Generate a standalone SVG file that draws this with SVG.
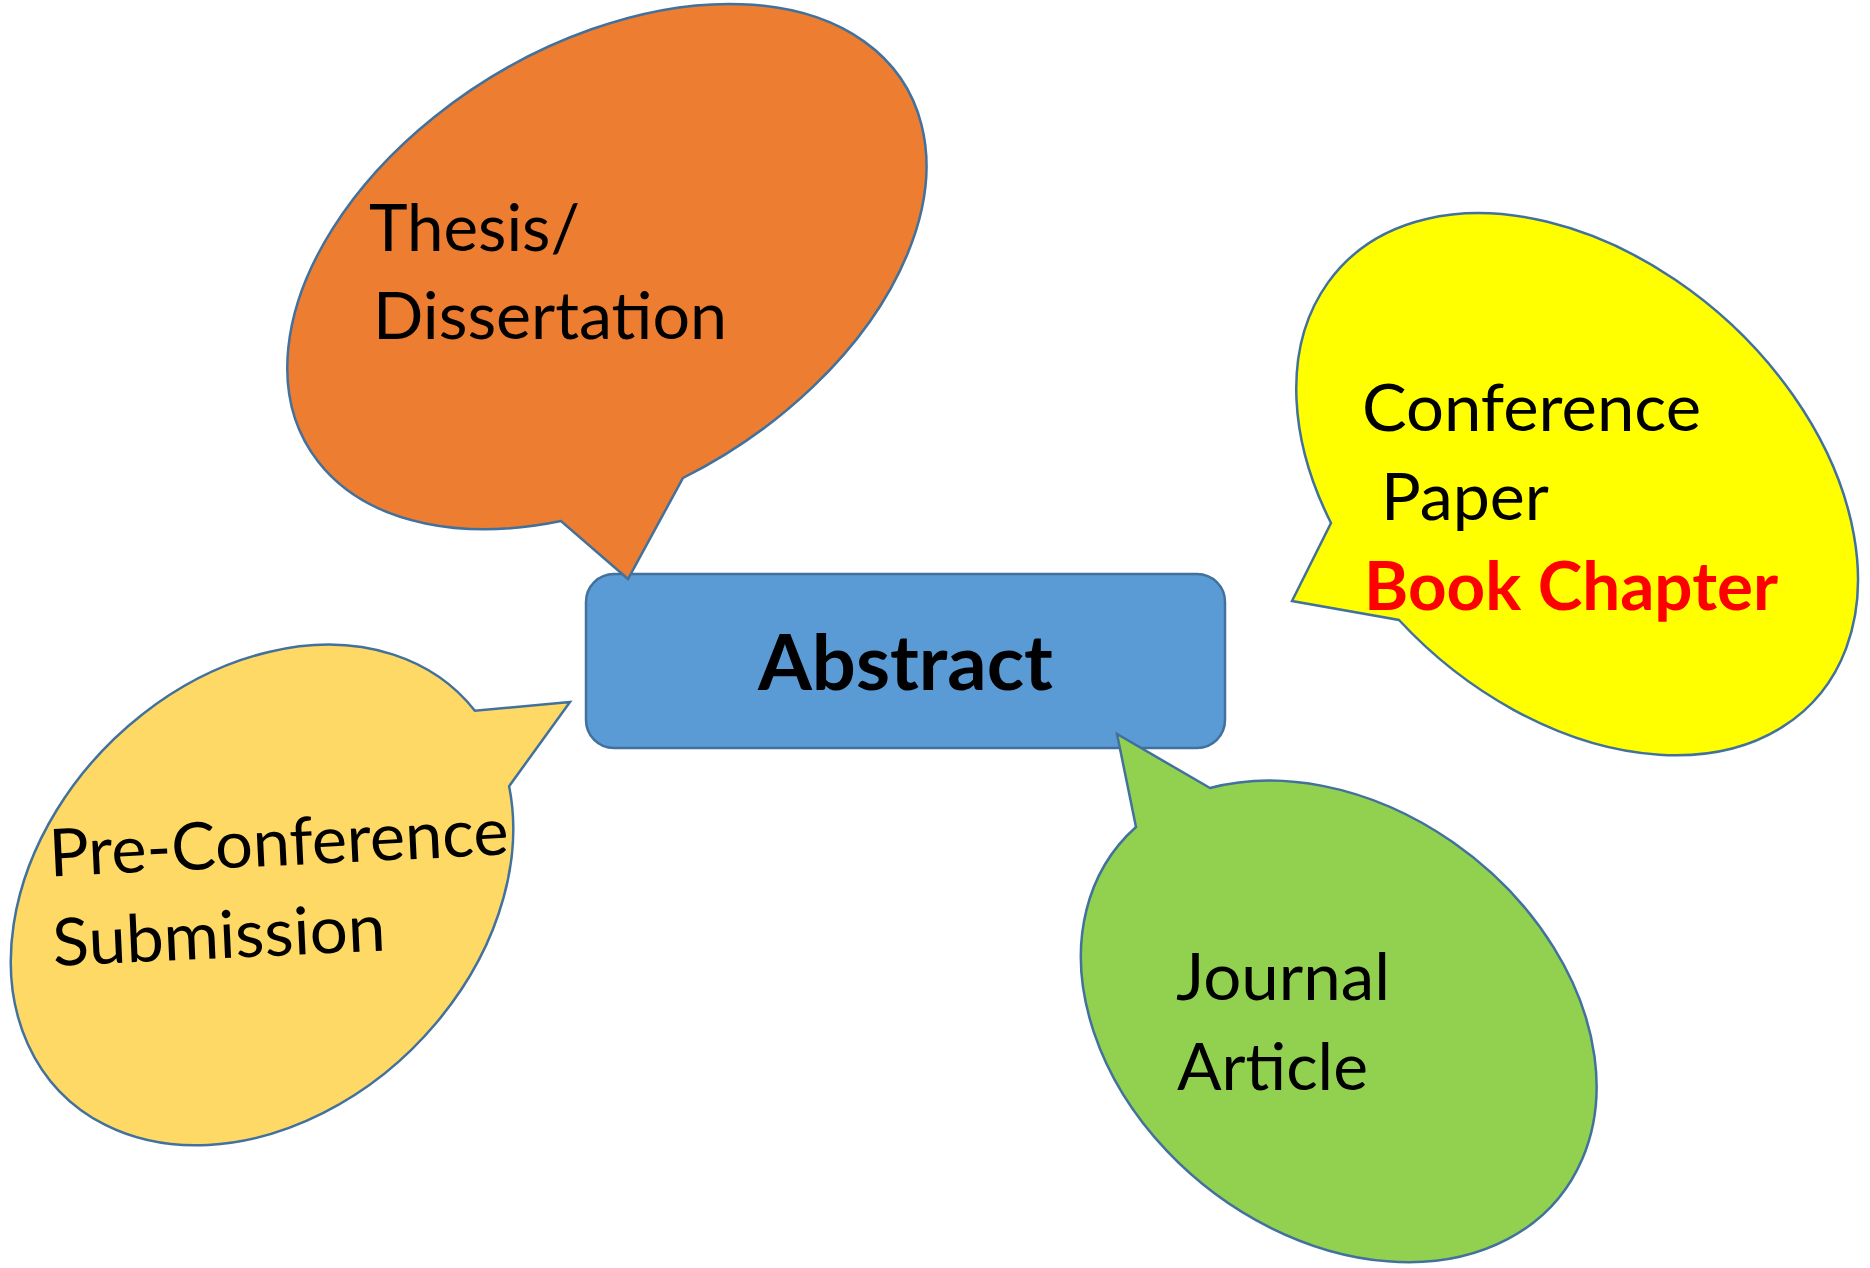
<svg xmlns="http://www.w3.org/2000/svg" width="1870" height="1268" viewBox="0 0 1870 1268">
<style>
.shape{stroke:#41719C;stroke-width:2.5;stroke-linejoin:miter}
.t{font-family:Lato,"Open Sans","Liberation Sans",sans-serif;font-size:66px;fill:#000}
.b{font-family:Lato,"Open Sans","Liberation Sans",sans-serif;font-weight:bold}
</style>
<rect width="1870" height="1268" fill="#fff"/>
<g id="abstract">
<rect class="shape" x="586" y="574" width="639" height="174" rx="28" ry="28" fill="#5B9BD5"/>
<text class="b" x="905.5" y="690" font-size="77" text-anchor="middle" textLength="295" lengthAdjust="spacingAndGlyphs" fill="#000">Abstract</text>
</g>
<g id="thesis">
<path class="shape" fill="#ED7D31" d="M 683 478 A 349 222 -31.4 1 0 561 521 L 628 579 Z"/>
<text class="t" x="369" y="251" textLength="211" lengthAdjust="spacingAndGlyphs">Thesis/</text>
<text class="t" x="373" y="339" textLength="354" lengthAdjust="spacingAndGlyphs">Dissertation</text>
</g>
<g id="conference">
<path class="shape" fill="#FFFF00" d="M 1331 523 A 321 222 42.1 1 1 1399 620 L 1292 601 Z"/>
<text class="t" x="1362" y="431" textLength="339" lengthAdjust="spacingAndGlyphs">Conference</text>
<text class="t" x="1381" y="520" textLength="168" lengthAdjust="spacingAndGlyphs">Paper</text>
<text class="b" x="1364" y="610" font-size="66" fill="#FF0000" textLength="414" lengthAdjust="spacingAndGlyphs">Book Chapter</text>
</g>
<g id="journal">
<path class="shape" fill="#92D050" d="M 1136 827 A 282 212 37.9 1 0 1210 788 L 1117 734 Z"/>
<text class="t" x="1176" y="1000" textLength="214" lengthAdjust="spacingAndGlyphs">Journal</text>
<text class="t" x="1177" y="1090" textLength="191" lengthAdjust="spacingAndGlyphs">Article</text>
</g>
<g id="preconference">
<path class="shape" fill="#FFD966" d="M 474.9 710.7 A 282 215 -44.6 1 0 509.1 786.2 L 570 702 Z"/>
<text class="t" x="50" y="876.5" transform="rotate(-2.75 50 876.5)" textLength="460" lengthAdjust="spacingAndGlyphs">Pre-Conference</text>
<text class="t" x="53.6" y="966" transform="rotate(-2.65 53.6 966)" textLength="333" lengthAdjust="spacingAndGlyphs">Submission</text>
</g>
</svg>
